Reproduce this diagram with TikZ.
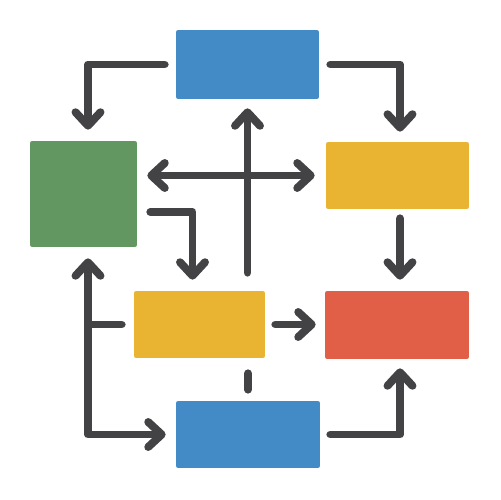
\documentclass[tikz,border=0pt]{standalone}
\usetikzlibrary{arrows.meta}

\definecolor{boxblue}{HTML}{428BC7}
\definecolor{boxgreen}{HTML}{629762}
\definecolor{boxyellow}{HTML}{E9B432}
\definecolor{boxred}{HTML}{E15E47}
\definecolor{linkgray}{HTML}{434346}

\tikzset{
  box/.style={rounded corners=1.2pt, inner sep=0pt, draw=none},
  link/.style={line width=4.5pt, draw=linkgray, line cap=round, line join=round,
    -{Straight Barb[round,length=2.7mm,width=5mm]}},
  bothlink/.style={link, {Straight Barb[round,length=2.7mm,width=5mm]}-{Straight Barb[round,length=2.7mm,width=5mm]}},
  plainlink/.style={link, -}
}

\begin{document}
\begin{tikzpicture}[x=0.02cm,y=-0.02cm]
        \useasboundingbox (0,0) rectangle (500,500);

        % Boxes
        \node[box, fill=boxblue, minimum width=2.86cm, minimum height=1.38cm] (topb) at (247.5,64.5) {};
        \node[box, fill=boxgreen, minimum width=2.14cm, minimum height=2.12cm] (green) at (83.5,194) {};
        \node[box, fill=boxyellow, minimum width=2.86cm, minimum height=1.34cm] (yr) at (397.5,175.5) {};
        \node[box, fill=boxyellow, minimum width=2.62cm, minimum height=1.34cm] (ym) at (199.5,324.5) {};
        \node[box, fill=boxred, minimum width=2.88cm, minimum height=1.36cm] (red) at (397,325) {};
        \node[box, fill=boxblue, minimum width=2.88cm, minimum height=1.34cm] (botb) at (248,434.5) {};

        % Helper point on the left line
        \coordinate (lft) at ([xshift=0.9mm]green.south);

        % Top arrows
        \draw[link, shorten <=2.2mm, shorten >=2.2mm] (topb.west) -| ([xshift=0.9mm]green.north);
        \draw[link, shorten <=2.2mm, shorten >=2mm] (topb.east) -| ([xshift=0.5mm]yr.north);

        % Middle arrows
        \draw[bothlink, shorten <=2mm, shorten >=2.2mm] (green.east |- yr.west) -- (yr.west);
        \draw[link, shorten <=3.6mm, shorten >=1.8mm] (topb.south |- ym.north) -- (topb.south);
        \draw[link, shorten <=2.6mm, shorten >=2.2mm] ([yshift=-3.6mm]green.east) -| ([xshift=-1.4mm]ym.north);
        \draw[link, shorten <=1.8mm, shorten >=2.2mm] ([xshift=0.5mm]yr.south) -- ([xshift=0.6mm]red.north);
        \draw[link, shorten <=2mm, shorten >=1.8mm] (ym.east) -- (ym.east -| red.west);

        % Dash under the middle box
        \draw[plainlink, shorten <=3mm, shorten >=2.2mm] (ym.south -| botb.north) -- (botb.north);

        % Left arrows
        \draw[bothlink, shorten <=2.2mm, shorten >=2mm] (lft) |- (botb.west);
        \draw[plainlink, shorten >=2.4mm] (lft |- ym.west) -- (ym.west);

        % Bottom arrow
        \draw[link, shorten <=2mm, shorten >=1.8mm] (botb.east) -| ([xshift=0.6mm]red.south);
    \end{tikzpicture}
\end{document}
